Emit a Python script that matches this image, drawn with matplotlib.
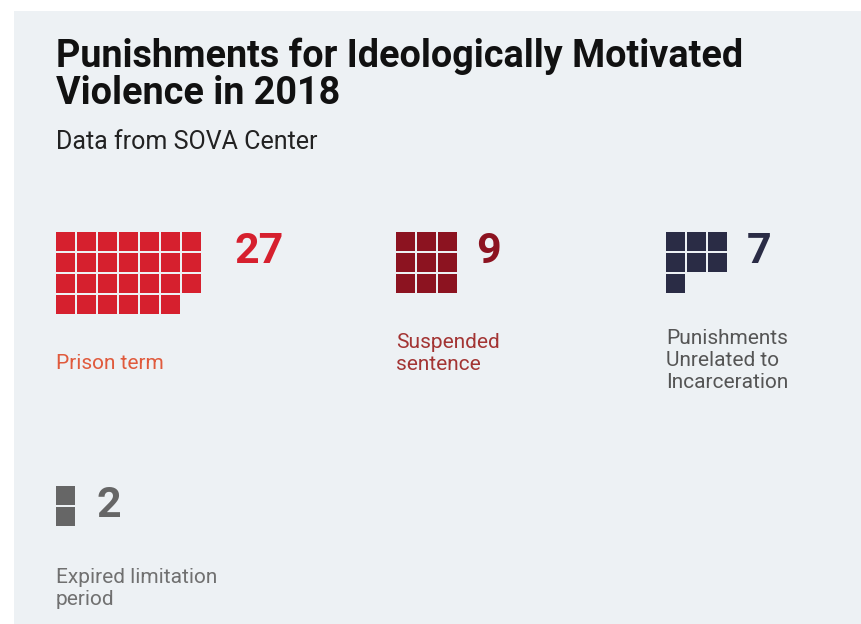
import matplotlib
matplotlib.use("Agg")
import matplotlib.pyplot as plt
from matplotlib.patches import Rectangle

plt.rcParams['font.family'] = ['Roboto', 'DejaVu Sans']

# ---- data ----
categories = ["Prison term", "Suspended\nsentence", "Punishments\nUnrelated to\nIncarceration",
              "Expired limitation\nperiod"]
counts = [27, 9, 7, 2]
columns = [7, 3, 3, 1]
square_colors = ["#d6202e", "#8c1320", "#2a2c45", "#666666"]
number_colors = ["#d6202e", "#8c1320", "#2a2c45", "#666666"]
label_colors = ["#e05a3c", "#a33433", "#555555", "#707070"]
title = "Punishments for Ideologically Motivated\nViolence in 2018"
subtitle = "Data from SOVA Center"

# ---- layout (pixel space) ----
W, H = 861, 624
fig = plt.figure(figsize=(W / 100, H / 100), dpi=100)
fig.patch.set_facecolor("white")
ax = fig.add_axes([0, 0, 1, 1])
ax.set_xlim(0, W)
ax.set_ylim(H, 0)
ax.axis("off")

ax.add_patch(Rectangle((14, 11), W - 14, H - 11, facecolor="#edf1f4", edgecolor="none"))

ax.text(56, 67, title.split("\n")[0], fontsize=27.2, fontweight="bold", color="#111111", va="baseline")
ax.text(56, 104, title.split("\n")[1], fontsize=27.2, fontweight="bold", color="#111111", va="baseline")
ax.text(56, 149, subtitle, fontsize=18, color="#222222", va="baseline")

origins = [(56, 232), (396, 232), (666, 232), (56, 486)]
num_x = [234, 476, 747, 97]
label_base = [369, 348, 344, 583]
pitch, size = 21, 19
line_gap = 22

for cat, n, ncol, sc, nc, lc, (x0, y0), nx, lb in zip(
        categories, counts, columns, square_colors, number_colors, label_colors,
        origins, num_x, label_base):
    for i in range(n):
        c, r = i % ncol, i // ncol
        ax.add_patch(Rectangle((x0 + c * pitch, y0 + r * pitch), size, size,
                               facecolor=sc, edgecolor="none"))
    ax.text(nx, y0 + 31, str(n), fontsize=31, fontweight="bold", color=nc, va="baseline")
    for k, line in enumerate(cat.split("\n")):
        ax.text(x0, lb + k * line_gap, line, fontsize=15, color=lc, va="baseline")

fig.savefig("out.png", dpi=100, facecolor=fig.get_facecolor())
